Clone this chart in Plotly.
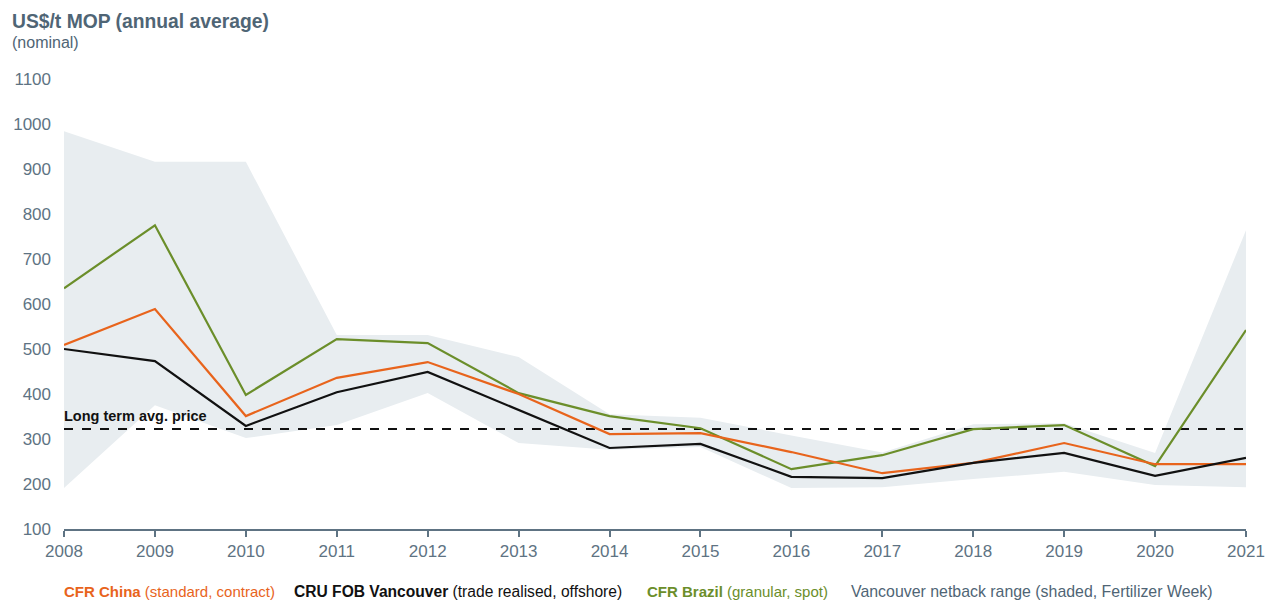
import plotly.graph_objects as go

# Annual average MOP prices, US$/t nominal
years = list(range(2008, 2022))
cfr_china = [509, 589, 351, 436, 471, 400, 311, 313, 271, 224, 247, 291, 244, 244]
fob_vancouver = [500, 473, 329, 404, 449, 364, 280, 289, 216, 213, 247, 269, 218, 258]
cfr_brazil = [635, 775, 398, 522, 513, 402, 351, 324, 233, 264, 322, 331, 240, 542]
netback_high = [984, 916, 916, 531, 531, 482, 355, 347, 308, 270, 333, 335, 269, 764]
netback_low = [191, 375, 302, 331, 402, 291, 276, 282, 191, 193, 211, 227, 198, 193]
long_term_avg = 322

ORANGE = "#E8641C"
BLACK = "#111111"
GREEN = "#6B8E2A"
SLATE = "#4F6575"
AXIS = "#5E7383"
SHADE = "#E8EDF0"

fig = go.Figure()

# Shaded netback range
fig.add_trace(go.Scatter(x=years, y=netback_low, mode="lines",
                         line=dict(width=0, color=SHADE), hoverinfo="skip",
                         showlegend=False))
fig.add_trace(go.Scatter(x=years, y=netback_high, mode="lines",
                         line=dict(width=0, color=SHADE), fill="tonexty",
                         fillcolor=SHADE, hoverinfo="skip", showlegend=False))

# Long-term average price
fig.add_trace(go.Scatter(x=[years[0], years[-1]], y=[long_term_avg, long_term_avg],
                         mode="lines", line=dict(color=BLACK, width=2, dash="dash"),
                         showlegend=False, hoverinfo="skip"))

for vals, col in [(cfr_brazil, GREEN), (cfr_china, ORANGE), (fob_vancouver, BLACK)]:
    fig.add_trace(go.Scatter(x=years, y=vals, mode="lines",
                             line=dict(color=col, width=2.2), showlegend=False))

W, H = 1277, 603
L, R, T, B = 64, 29, 79, 74
pw, ph = W - L - R, H - T - B


def px(xp):
    return (xp - L) / pw


def py(yp):
    return (H - B - yp) / ph


base_font = "Liberation Sans, Arial"
annotations = [
    dict(text="<b>US$/t MOP (annual average)</b>", x=px(10), y=py(21),
         font=dict(size=19.3, color=SLATE, family=base_font)),
    dict(text="(nominal)", x=px(10), y=py(43),
         font=dict(size=16, color=SLATE, family=base_font)),
    dict(text="<b>Long term avg. price</b>", x=px(62), y=py(416),
         font=dict(size=14.5, color=BLACK, family=base_font)),
]

legend_font = "Liberation Sans Narrow, Arial Narrow, Liberation Sans, sans-serif"
legend_items = [
    ("<b>CFR China</b> (standard, contract)", ORANGE, 62, 15),
    ("<b>CRU FOB Vancouver</b> (trade realised, offshore)", BLACK, 292, 15.6),
    ("<b>CFR Brazil</b> (granular, spot)", GREEN, 646, 15),
    ("Vancouver netback range (shaded, Fertilizer Week)", SLATE, 850, 15.9),
]
for txt, col, xp, size in legend_items:
    annotations.append(dict(text=txt, x=px(xp), y=py(591),
                            font=dict(size=size, color=col, family=legend_font)))

for a in annotations:
    a.update(xref="paper", yref="paper", xanchor="left", yanchor="middle",
             showarrow=False)

fig.update_layout(
    width=W, height=H,
    margin=dict(l=L, r=R, t=T, b=B),
    paper_bgcolor="white", plot_bgcolor="white",
    annotations=annotations,
    font=dict(family=base_font, color=SLATE),
    xaxis=dict(range=[2008, 2021], tickmode="array", tickvals=years,
               ticktext=[str(y) for y in years], showgrid=False, zeroline=False,
               showline=True, linecolor=AXIS, linewidth=2,
               ticks="outside", ticklen=6, tickwidth=2, tickcolor=AXIS,
               tickfont=dict(size=17, color=AXIS)),
    yaxis=dict(range=[100, 1100], tickvals=list(range(100, 1101, 100)),
               showgrid=False, zeroline=False, showline=False, ticks="",
               ticklabelstandoff=12,
               tickfont=dict(size=17, color=AXIS)),
)

fig.write_html("out.html")
